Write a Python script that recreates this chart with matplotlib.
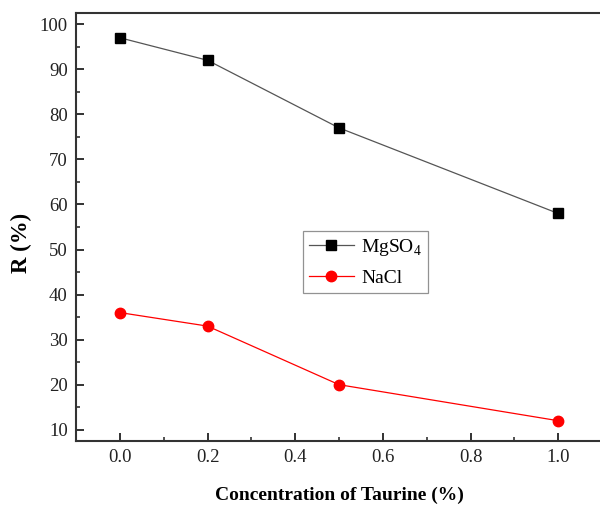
import matplotlib
matplotlib.use('Agg')
import matplotlib.pyplot as plt

plt.rcParams['font.family'] = ['Liberation Serif', 'DejaVu Serif']
plt.rcParams['mathtext.fontset'] = 'custom'
plt.rcParams['mathtext.rm'] = 'Liberation Serif'

# taurine concentration (%) and rejection R (%)
conc = [0.0, 0.2, 0.5, 1.0]
r_mgso4 = [97, 92, 77, 58]
r_nacl = [36, 33, 20, 12]

xticks = [0.0, 0.2, 0.4, 0.6, 0.8, 1.0]
yticks = [10, 20, 30, 40, 50, 60, 70, 80, 90, 100]

fig = plt.figure(figsize=(6.0, 5.07), dpi=100)
ax = fig.add_axes([0.1267, 0.1302, 0.8767, 0.8442])

ax.plot(conc, r_mgso4, color='#555555', linewidth=0.9, marker='s',
        markersize=6.5, markerfacecolor='black', markeredgecolor='black',
        label='MgSO$_4$')
ax.plot(conc, r_nacl, color='red', linewidth=0.9, marker='o',
        markersize=7.5, markerfacecolor='red', markeredgecolor='red',
        label='NaCl')

ax.set_xlim(-0.1, 1.1)
ax.set_ylim(7.5, 102.5)
ax.set_xticks(xticks)
ax.set_xticklabels(['%.1f' % v for v in xticks])
ax.set_yticks(yticks)
ax.set_xticks([0.1, 0.3, 0.5, 0.7, 0.9], minor=True)
ax.set_yticks([15, 25, 35, 45, 55, 65, 75, 85, 95], minor=True)

ax.tick_params(which='major', direction='in', length=6, width=1.3,
               labelsize=13.5, colors='#222222', pad=6)
ax.tick_params(which='minor', direction='in', length=3, width=1.1,
               colors='#222222')
ax.tick_params(top=False, right=False)

for side in ['left', 'bottom', 'top', 'right']:
    ax.spines[side].set_linewidth(1.5)
    ax.spines[side].set_color('#333333')

ax.set_xlabel('Concentration of Taurine (%)', fontsize=14, fontweight='bold',
              labelpad=15)
ax.set_ylabel('R (%)', fontsize=16.5, fontweight='bold')
ax.yaxis.set_label_coords(-0.083, 0.463)

leg = ax.legend(loc='lower left', bbox_to_anchor=(0.505, 0.422),
                bbox_transform=fig.transFigure, fontsize=14, fancybox=False,
                edgecolor='#777777', handlelength=2.3, handletextpad=0.4,
                borderaxespad=0, labelspacing=0.6, borderpad=0.3)
leg.get_frame().set_linewidth(0.9)

fig.savefig('out.png', dpi=100)
